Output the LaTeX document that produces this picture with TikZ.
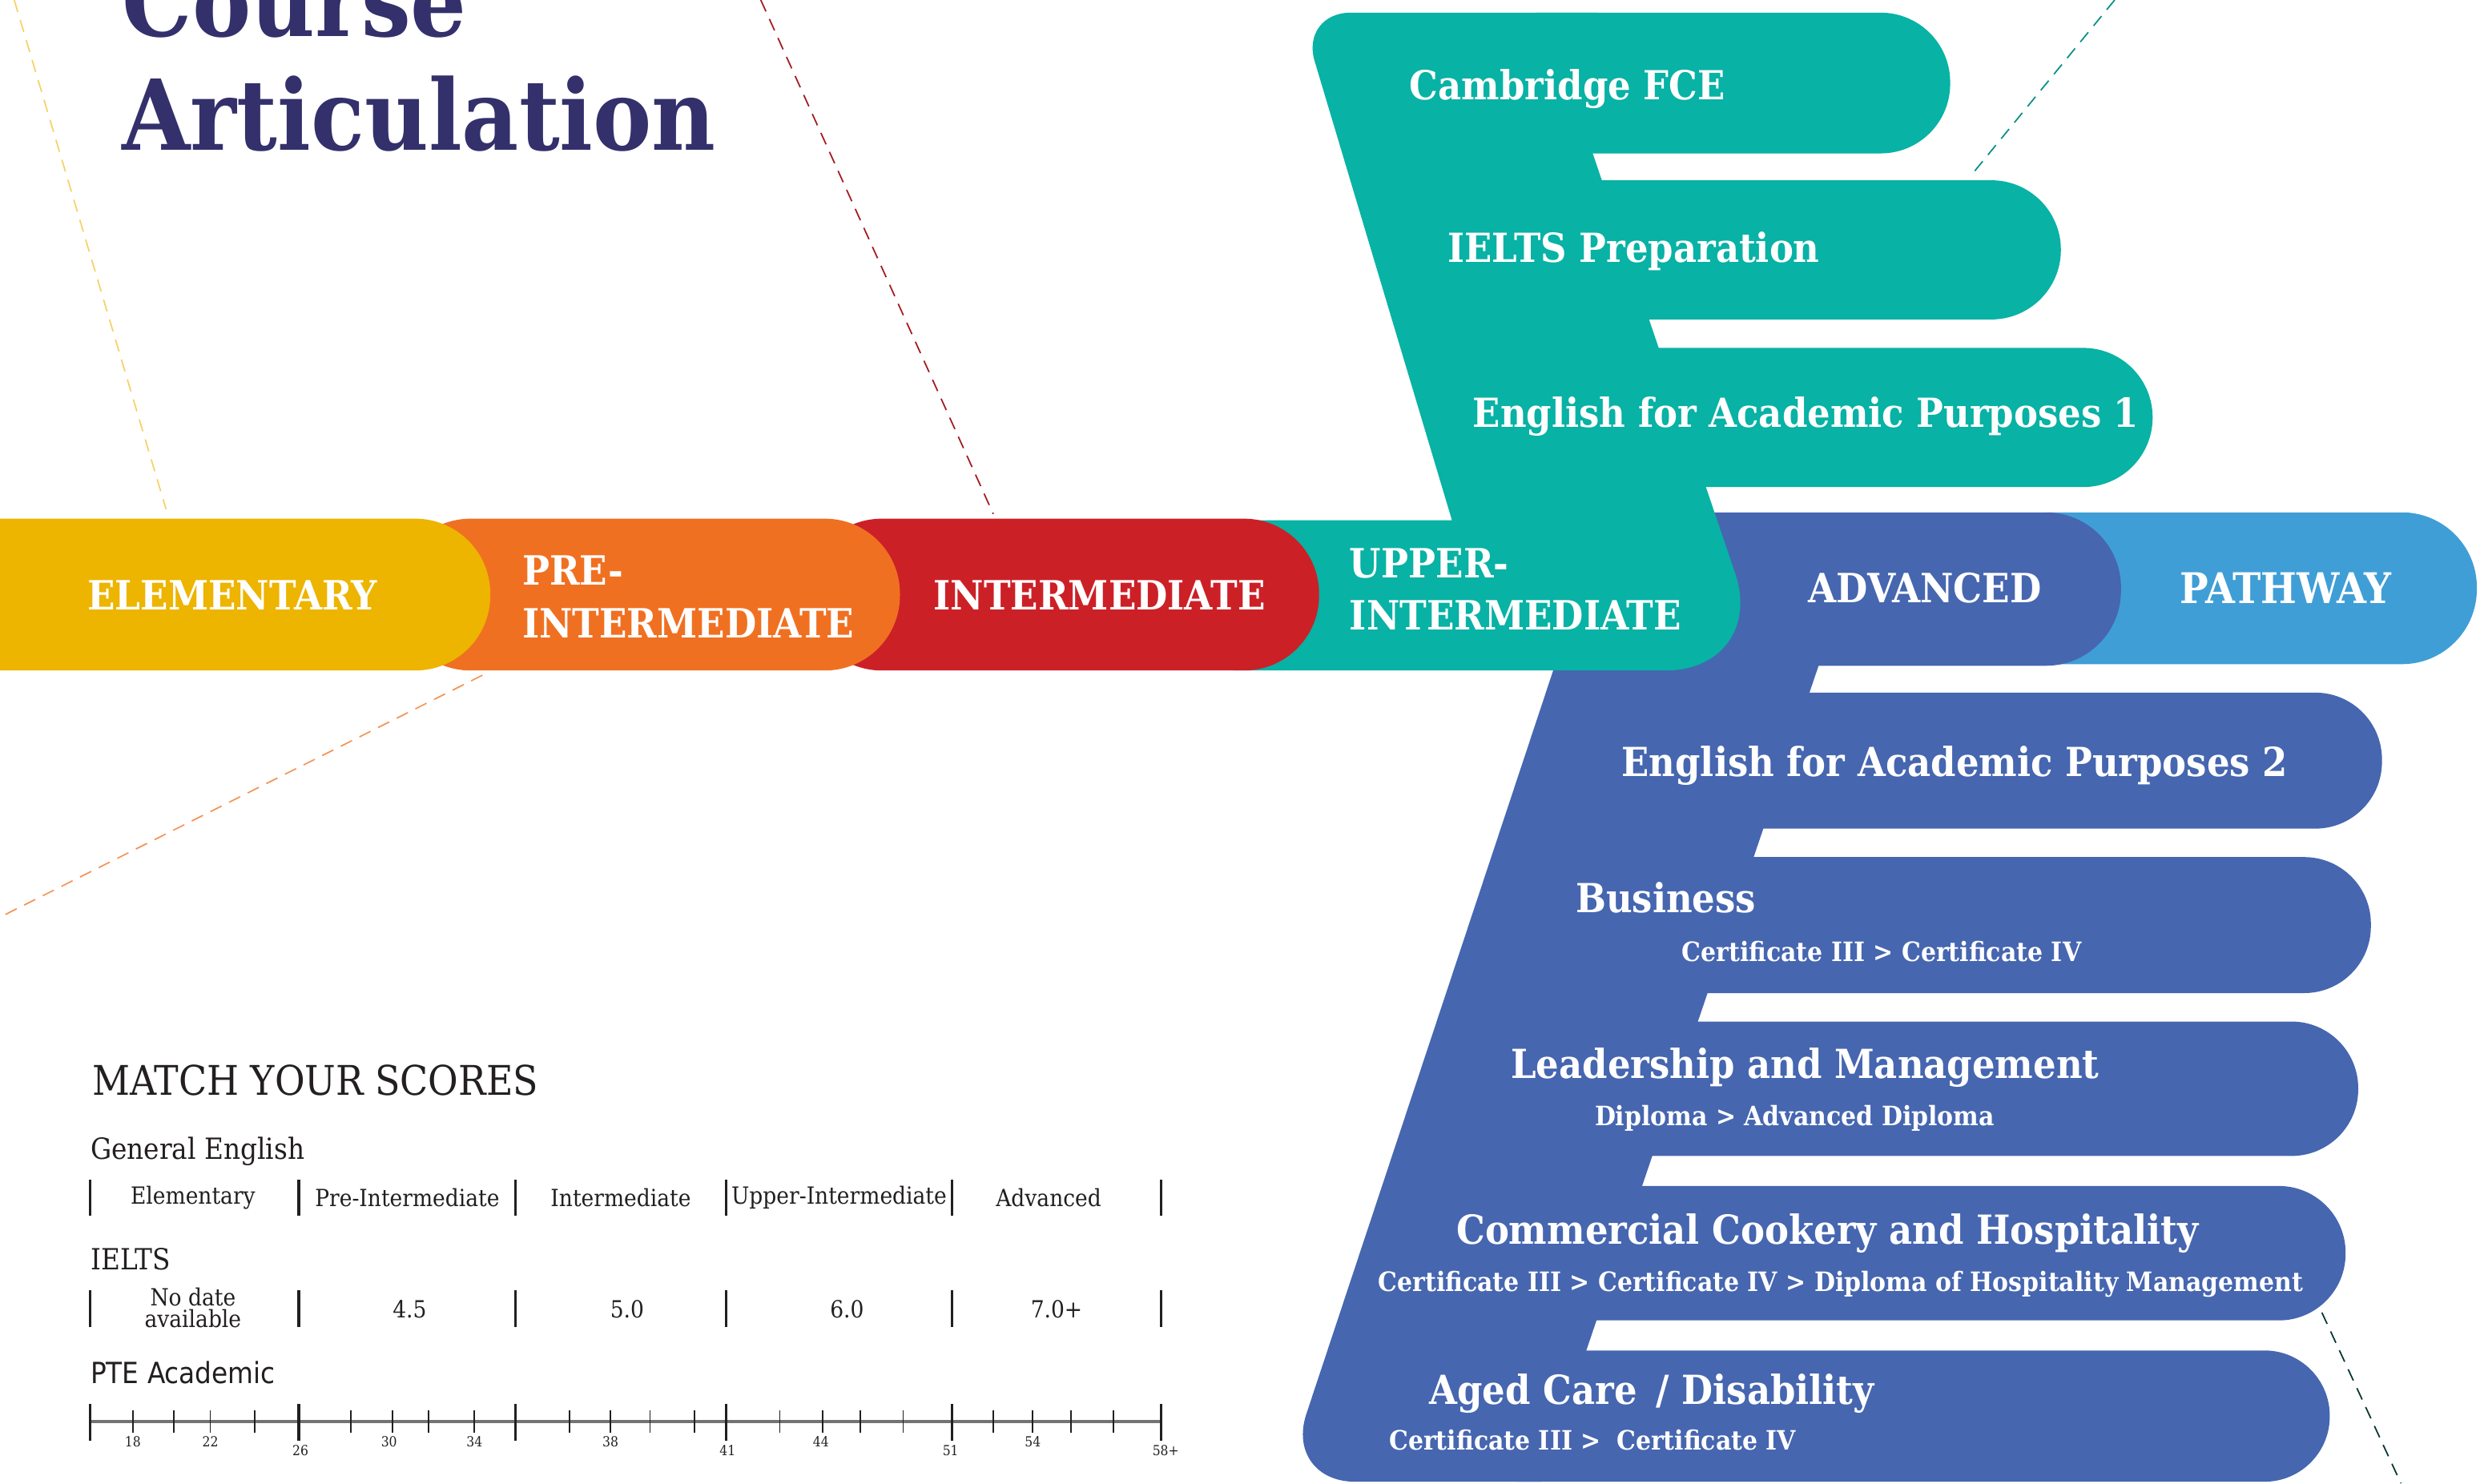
\documentclass[tikz,border=0pt]{standalone}
\usepackage{fontspec}
\setmainfont{DejaVu Serif Condensed}
\newfontfamily\ptefont{DejaVu Sans Condensed}

\definecolor{elemyellow}{RGB}{237,180,0}
\definecolor{preorange}{RGB}{240,112,34}
\definecolor{interred}{RGB}{204,32,39}
\definecolor{upperteal}{RGB}{8,178,165}
\definecolor{advblue}{RGB}{70,102,176}
\definecolor{pathblue}{RGB}{64,158,214}
\definecolor{titlenavy}{RGB}{51,48,107}
\definecolor{scoreink}{RGB}{35,31,32}

\begin{document}
\begin{tikzpicture}[x=0.02cm, y=-0.02cm,
    level/.style={text=white, font=\fontsize{14.5}{18.8}\selectfont\bfseries, inner sep=0pt, anchor=west, align=left},
    course/.style={text=white, font=\fontsize{14.4}{18}\selectfont\bfseries, inner sep=0pt, anchor=base west},
    award/.style={text=white, font=\fontsize{9.6}{11}\selectfont\bfseries, inner sep=0pt, anchor=base west},
    guide/.style={dash pattern=on 4.5pt off 3pt, line width=0.5pt},
    heading/.style={text=scoreink, inner sep=0pt, anchor=base west},
    cell/.style={text=scoreink, font=\fontsize{8.5}{8.5}\selectfont, inner sep=0pt, align=center},
    divider/.style={scoreink, line width=1pt},
    score/.style={text=scoreink, font=\fontsize{5}{6}\selectfont, inner sep=0pt, anchor=base}
  ]
    \useasboundingbox (0,0) rectangle (1568,938);
    \clip (0,0) rectangle (1568,938);

    % dashed guides
    \draw [guide, elemyellow!60]     (9,0) -- (105,322);
    \draw [guide, interred!80!black] (481,0) -- (628,325);
    \draw [guide, preorange!75]      (305,427) -- (0,580);
    \draw [guide, upperteal!80!black] (1337,0) -- (1247,110);
    \draw [guide, black!70!upperteal] (1468,830) -- (1518,938);

    % pathway and advanced
    \fill [pathblue, rounded corners=27pt] (1250,324) rectangle (1566,420);
    \fill [advblue, rounded corners=27pt]  (1000,324) rectangle (1341,421);
    \fill [advblue] (996.6,380) -- (1163.7,380) -- (974.8,937) -- (856.7,937)
        .. controls (832,937) and (818.1,917.8) .. (825.9,894.3) -- cycle;
    \fill [advblue, rounded corners=24pt] (1060,438) rectangle (1506,524);
    \fill [advblue, rounded corners=24pt] (1025,542) rectangle (1499,628);
    \fill [advblue, rounded corners=24pt] (990,646)  rectangle (1491,731);
    \fill [advblue, rounded corners=24pt] (955,750)  rectangle (1483,835);
    \fill [advblue, rounded corners=23.5pt] (920,854)  rectangle (1473,937);

    % upper-intermediate
    \fill [upperteal] (780,329) -- (918,329) -- (831.2,38.7)
        .. controls (826.1,21.8) and (836.4,8) .. (854,8) -- (1010,8) -- (1007,97) -- (1097,362.4)
        .. controls (1108.6,396.2) and (1088.8,424) .. (1053,424) -- (780,424) -- cycle;
    \fill [upperteal, rounded corners=25pt] (930,8)   rectangle (1233,97);
    \fill [upperteal, rounded corners=25pt] (962,114) rectangle (1303,202);
    \fill [upperteal, rounded corners=25pt] (998,220) rectangle (1361,308);

    % intermediate, pre-intermediate, elementary
    \fill [interred, rounded corners=27pt]   (510,328) rectangle (834,424);
    \fill [preorange, rounded corners=27pt]  (250,328) rectangle (569,424);
    \fill [elemyellow, rounded corners=27pt] (-60,328) rectangle (310,424);

    % title
    \node [font=\fontsize{35.2}{41}\selectfont\bfseries, text=titlenavy, anchor=base west, inner sep=0pt] (course) at (77,23) {Course};
    \node [font=\fontsize{35.2}{41}\selectfont\bfseries, text=titlenavy, anchor=base west, inner sep=0pt] (articulation) at (77,95) {Articulation};

    % levels
    \node [level] (elementary) at (55,376.6)  {ELEMENTARY};
    \node [level] (preinter)   at (330,377.4) {PRE-\\INTERMEDIATE};
    \node [level] (inter)      at (590,376.6) {INTERMEDIATE};
    \node [level] (upperinter) at (853,372.5) {UPPER-\\INTERMEDIATE};
    \node [level] (advanced)   at (1143,372)  {ADVANCED};
    \node [level, font=\fontsize{15.2}{18.8}\selectfont\bfseries] (pathway) at (1378,372) {PATHWAY};

    % teal courses
    \node [course] (fce)   at (891,63)  {Cambridge FCE};
    \node [course] (ielts) at (915,166) {IELTS Preparation};
    \node [course] (eap1)  at (931,270) {English for Academic Purposes 1};

    % blue courses
    \node [course] (eap2)           at (1025,491) {English for Academic Purposes 2};
    \node [course] (business)       at (996,577)  {Business};
    \node [award]  (businessaward)  at (1063,608) {Certificate III > Certificate IV};
    \node [course] (leadership)     at (955,682)  {Leadership and Management};
    \node [award]  (leadershipaward) at (1008,711.6) {Diploma > Advanced Diploma};
    \node [course] (cookery)        at (920.5,787) {Commercial Cookery and Hospitality};
    \node [award]  (cookeryaward)   at (871,816.6) {Certificate III > Certificate IV > Diploma of Hospitality Management};
    \node [course] (agedcare)       at (903.5,888) {Aged Care \,/ Disability};
    \node [award]  (agedcareaward)  at (878,916.7) {Certificate III > \;Certificate IV};

    % match your scores
    \node [heading, font=\fontsize{14.7}{14.7}\selectfont] (match) at (58,692.7) {MATCH YOUR SCORES};
    \node [heading, font=\fontsize{10.5}{10.5}\selectfont] (general) at (57,733) {General English};
    \draw [divider] (57,746) -- (57,769) (189,746) -- (189,769) (326,746) -- (326,769)
        (459,746) -- (459,769) (602,746) -- (602,769) (734,746) -- (734,769);
    \node [cell] (gelem)  at (122,757.5) {Elementary};
    \node [cell] (gpre)   at (257.5,757.5) {Pre-Intermediate};
    \node [cell] (ginter) at (392.5,757.5) {Intermediate};
    \node [cell] (gupper) at (530.5,757.5) {Upper-Intermediate};
    \node [cell] (gadv)   at (663,757.5) {Advanced};

    % IELTS
    \node [heading, font=\fontsize{10.5}{10.5}\selectfont] (ieltshead) at (57,802.9) {IELTS};
    \draw [divider] (57,816) -- (57,839) (189,816) -- (189,839) (326,816) -- (326,839)
        (459,816) -- (459,839) (602,816) -- (602,839) (734,816) -- (734,839);
    \node [cell, font=\fontsize{8.5}{7.8}\selectfont] (inodate) at (122,827) {No date\\available};
    \node [cell] (i45) at (259,828) {4.5};
    \node [cell] (i50) at (396.5,828) {5.0};
    \node [cell] (i60) at (535.5,828) {6.0};
    \node [cell] (i70) at (668,828) {7.0+};

    % PTE
    \node [heading, font=\ptefont\fontsize{10.5}{10.5}\selectfont] (ptehead) at (57,875) {PTE Academic};
    \draw [black!55, line width=1.3pt] (57,899) -- (734,899);
    \draw [divider] (57,888) -- (57,911) (189,888) -- (189,911) (326,888) -- (326,911)
        (459,888) -- (459,911) (602,888) -- (602,911) (734,888) -- (734,911);
    \draw [scoreink, line width=0.5pt]
        (84,892) -- (84,906) (110,892) -- (110,906) (133,892) -- (133,906) (161,892) -- (161,906)
        (222,892) -- (222,906) (248,892) -- (248,906) (271,892) -- (271,906) (300,892) -- (300,906)
        (360,892) -- (360,906) (386,892) -- (386,906) (411,892) -- (411,906) (439,892) -- (439,906)
        (493,892) -- (493,906) (520,892) -- (520,906) (544,892) -- (544,906) (571,892) -- (571,906)
        (628,892) -- (628,906) (653,892) -- (653,906) (677,892) -- (677,906) (704,892) -- (704,906);
    \node [score] (p18) at (84,914.8)  {18};
    \node [score] (p22) at (133,914.8) {22};
    \node [score] (p26) at (190,920.5) {26};
    \node [score] (p30) at (246,914.8) {30};
    \node [score] (p34) at (300,914.8) {34};
    \node [score] (p38) at (386,914.8) {38};
    \node [score] (p41) at (460,920.5) {41};
    \node [score] (p44) at (519,914.8) {44};
    \node [score] (p51) at (601,920.5) {51};
    \node [score] (p54) at (653,914.8) {54};
    \node [score] (p58) at (737,920.5) {58+};
  \end{tikzpicture}
\end{document}
